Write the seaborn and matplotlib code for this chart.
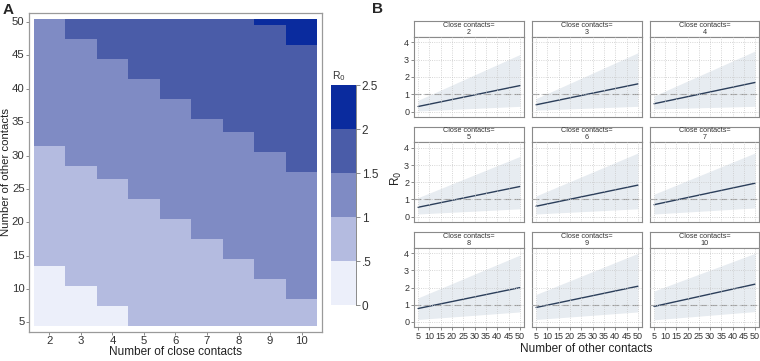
import numpy as np
import pandas as pd
import matplotlib
matplotlib.use('Agg')
import matplotlib.pyplot as plt
import seaborn as sns
from matplotlib.colors import ListedColormap, BoundaryNorm
from matplotlib.cm import ScalarMappable

sns.set_style('white')
plt.rcParams['font.family'] = ['Liberation Sans', 'DejaVu Sans']

# ---- panel A data: last "other contacts" value in each R0 class, per column
close = [2, 3, 4, 5, 6, 7, 8, 9, 10]
other = list(range(5, 51))
top_00 = [13, 10, 7, 4, 4, 4, 4, 4, 4]        # R0 0-0.5
top_05 = [31, 28, 26, 23, 20, 17, 14, 11, 8]   # R0 0.5-1
top_10 = [50, 47, 44, 41, 38, 35, 33, 30, 27]  # R0 1-1.5
top_15 = [50, 50, 50, 50, 50, 50, 50, 49, 46]  # R0 1.5-2, above -> 2-2.5
class_mid = [0.25, 0.75, 1.25, 1.75, 2.25]
r0_bounds = [0, 0.5, 1, 1.5, 2, 2.5]
r0_labels = ['0', '.5', '1', '1.5', '2', '2.5']
colors = ['#ECEFFA', '#B4BBE0', '#7F8BC4', '#4A5CA8', '#0A2B9E']

# ---- panel B data: fitted line and band at 5 and 50 other contacts
x_ends = [5, 50]
line_lo = [0.29, 0.39, 0.45, 0.54, 0.60, 0.69, 0.78, 0.84, 0.90]
line_hi = [1.50, 1.60, 1.68, 1.75, 1.83, 1.94, 2.00, 2.08, 2.20]
up_lo = [0.65, 0.75, 0.90, 1.10, 1.20, 1.30, 1.40, 1.60, 1.80]
up_hi = [3.30, 3.40, 3.50, 3.50, 3.70, 3.70, 3.90, 4.00, 4.00]
dn_lo = [0.03, 0.08, 0.15, 0.15, 0.15, 0.15, 0.14, 0.14, 0.12]
dn_hi = [0.30, 0.30, 0.30, 0.45, 0.45, 0.50, 0.58, 0.58, 0.60]

# build grid of R0 classes
grid = np.zeros((len(other), len(close)))
for j in range(len(close)):
    for i, y in enumerate(other):
        k = sum(y > t for t in (top_00[j], top_05[j], top_10[j], top_15[j]))
        grid[i, j] = class_mid[k]
heat = pd.DataFrame(grid, index=other, columns=close)

W, H = 760, 361
fig = plt.figure(figsize=(W / 100, H / 100), dpi=100)

def box(x0, y0, x1, y1):
    return [x0 / W, 1 - y1 / H, (x1 - x0) / W, (y1 - y0) / H]

cmap = ListedColormap(colors)
norm = BoundaryNorm(r0_bounds, cmap.N)

axA = fig.add_axes(box(28.5, 12.7, 322.5, 331.7))
sns.heatmap(heat, ax=axA, cmap=cmap, norm=norm, cbar=False)
axA.set_xlim(-0.16, len(close) + 0.16)
axA.set_ylim(-0.9, len(other) + 0.9)
axA.set_xticks(np.arange(len(close)) + 0.5)
axA.set_xticklabels([str(c) for c in close], rotation=0)
yt = list(range(5, 51, 5))
axA.set_yticks([other.index(v) + 0.5 for v in yt])
axA.set_yticklabels([str(v) for v in yt], rotation=0)
for s in axA.spines.values():
    s.set_visible(True)
    s.set_color('#9A9A9A')
    s.set_linewidth(0.9)
axA.tick_params(length=2, width=0.6, color='#777777', labelsize=8.2,
                labelcolor='#333333', pad=0.8, left=True, bottom=True)
axA.set_xlabel('Number of close contacts', fontsize=8.5, color='#222222', labelpad=0)
axA.set_ylabel('')
fig.text(6 / W, 1 - 172 / H, 'Number of other contacts', fontsize=8.2,
         color='#222222', rotation=90, ha='center', va='center')

cax = fig.add_axes(box(331, 85, 356, 305))
cb = fig.colorbar(ScalarMappable(norm=norm, cmap=cmap), cax=cax, ticks=r0_bounds)
cb.ax.set_yticklabels(r0_labels)
cb.outline.set_visible(False)
cax.spines['right'].set_visible(True)
cax.spines['right'].set_color('#777777')
cax.spines['right'].set_linewidth(0.6)
cax.tick_params(length=3, width=0.6, color='#777777', labelsize=8.5,
                labelcolor='#333333', pad=1)
fig.text(332 / W, 1 - 76 / H, 'R$_0$', fontsize=7.5, color='#333333', va='center')

fig.text(3 / W, 1 - 10 / H, 'A', fontsize=11, fontweight='bold', va='center')
fig.text(372 / W, 1 - 9 / H, 'B', fontsize=11, fontweight='bold', va='center')

# ---- panel B facets
col_x = [(414, 524), (532, 642), (650, 759)]
row_y = [(21, 116.7), (126.5, 221.7), (232, 327)]
hdr_h = 15.7
for n, c in enumerate(close):
    r, q = divmod(n, 3)
    x0, x1 = col_x[q]
    y0, y1 = row_y[r]
    hax = fig.add_axes(box(x0, y0, x1, y0 + hdr_h))
    hax.set_xticks([])
    hax.set_yticks([])
    for s in hax.spines.values():
        s.set_color('#8A8A8A')
        s.set_linewidth(0.8)
    hax.text(0.5, 0.5, 'Close contacts=\n%d' % c, ha='center', va='center',
             fontsize=5.2, color='#333333', linespacing=0.95, transform=hax.transAxes)

    ax = fig.add_axes(box(x0, y0 + hdr_h, x1, y1))
    ax.fill_between(x_ends, [dn_lo[n], dn_hi[n]], [up_lo[n], up_hi[n]],
                    color='#E7ECF1', lw=0)
    ax.axhline(1, color='#999999', lw=0.8, ls=(0, (6, 3)))
    d = pd.DataFrame({'x': x_ends, 'y': [line_lo[n], line_hi[n]]})
    sns.lineplot(data=d, x='x', y='y', ax=ax, color='#2B3E5A', lw=1.0)
    ax.set_xlim(3.2, 51.8)
    ax.set_ylim(-0.3, 4.33)
    ax.set_xticks(range(5, 51, 5))
    ax.set_yticks(range(0, 5))
    ax.grid(True, ls=':', color='#C8C8C8', lw=0.6)
    ax.set_axisbelow(False)
    ax.set_xlabel('')
    ax.set_ylabel('')
    for s in ax.spines.values():
        s.set_color('#8A8A8A')
        s.set_linewidth(0.8)
    ax.tick_params(length=2.5, width=0.6, color='#777777', labelsize=6.5,
                   labelcolor='#333333', pad=1)
    if q != 0:
        ax.tick_params(axis='y', left=False, labelleft=False)
    else:
        ax.tick_params(axis='y', left=True)
    if r != 2:
        ax.tick_params(axis='x', bottom=False, labelbottom=False)
    else:
        ax.tick_params(axis='x', bottom=True)

fig.text(586 / W, 1 - 349 / H, 'Number of other contacts', fontsize=8.5,
         color='#222222', ha='center', va='center')
fig.text(396 / W, 1 - 178 / H, 'R$_0$', fontsize=8.5, color='#222222',
         rotation=90, ha='center', va='center')

fig.savefig('out.png', dpi=100)
